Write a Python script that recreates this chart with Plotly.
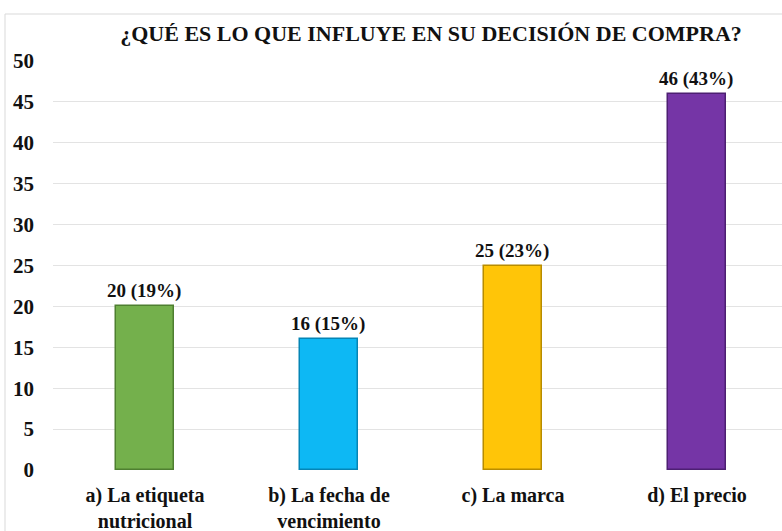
import plotly.graph_objects as go

categories = ["a) La etiqueta<br>nutricional", "b) La fecha de<br>vencimiento", "c) La marca", "d) El precio"]
counts = [20, 16, 25, 46]
percents = [19, 15, 23, 43]
colors = ["#74B04C", "#0DB8F4", "#FFC508", "#7535A6"]
edge_colors = ["#4E7F30", "#0585B5", "#B88C00", "#4D1F72"]
y_ticks = [0, 5, 10, 15, 20, 25, 30, 35, 40, 45, 50]

SERIF = "Liberation Serif, Times New Roman, serif"
W, H = 782, 531
L, T, B = 53, 61, 61
plot_w = W - L
plot_h = H - T - B

fig = go.Figure()
fig.add_trace(go.Bar(
    x=categories,
    y=counts,
    customdata=percents,
    width=0.315,
    marker=dict(color=colors, line=dict(color=edge_colors, width=1.5)),
    texttemplate="<b>%{y} (%{customdata}%)</b>",
    textposition="outside",
    constraintext="none",
    textfont=dict(family=SERIF, size=19, color="#111111"),
    cliponaxis=False,
    hoverinfo="skip",
))

fig.update_layout(
    width=W, height=H,
    margin=dict(l=L, r=0, t=T, b=B),
    paper_bgcolor="white",
    plot_bgcolor="white",
    font=dict(family=SERIF, color="#111111"),
    showlegend=False,
    bargap=0,
    title=dict(
        text="<b>¿QUÉ ES LO QUE INFLUYE EN SU DECISIÓN DE COMPRA?</b>",
        x=431 / W, xref="container", xanchor="center",
        y=1 - 33 / H, yref="container", yanchor="middle",
        font=dict(family=SERIF, size=22, color="#111111"),
    ),
    xaxis=dict(
        range=[-0.5, -0.5 + plot_w / 184],
        tickvals=categories,
        ticktext=["<b>" + c.replace("<br>", "</b><br><b>") + "</b>" for c in categories],
        showgrid=False, zeroline=False, showline=False,
        ticks="",
        tickfont=dict(family=SERIF, size=20, color="#111111"),
        ticklabelstandoff=11,
        fixedrange=True,
    ),
    yaxis=dict(
        range=[0, 50],
        tickvals=y_ticks,
        ticktext=["<b>%d</b>" % v for v in y_ticks],
        showgrid=True, gridcolor="#E3E3E3", gridwidth=1,
        zeroline=False, showline=False,
        ticks="",
        tickfont=dict(family=SERIF, size=21, color="#111111"),
        ticklabelstandoff=18,
        fixedrange=True,
    ),
    shapes=[dict(
        type="rect", xref="paper", yref="paper",
        x0=(5 - L) / plot_w, x1=1.05,
        y0=-0.3, y1=(470 - 14) / plot_h,
        line=dict(color="#D9D9D9", width=1),
        fillcolor="rgba(0,0,0,0)",
        layer="below",
    )],
)

fig.write_html(
    "out.html",
    config={"displayModeBar": False},
    post_script="document.body.style.margin='0';document.body.style.overflow='hidden';",
)
